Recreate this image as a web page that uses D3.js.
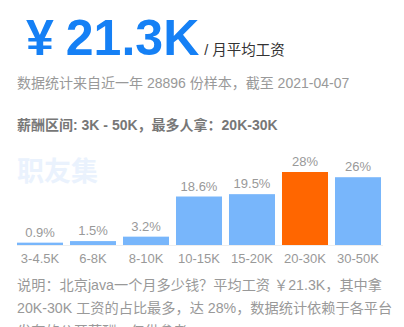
<!DOCTYPE html>
<html>
<head>
<meta charset="utf-8">
<script src="https://cdn.jsdelivr.net/npm/d3@7/dist/d3.min.js"></script>
<style>
  html, body { margin: 0; padding: 0; background: #fff; }
  svg { display: block; font-family: "Liberation Sans", Arial, "Noto Sans CJK SC", sans-serif; }
</style>
</head>
<body>
<div id="chart"></div>
<script>
// data
const categories = ['3-4.5K', '6-8K', '8-10K', '10-15K', '15-20K', '20-30K', '30-50K'];
const shares = [0.9, 1.5, 3.2, 18.6, 19.5, 28, 26];
const shareLabels = ['0.9%', '1.5%', '3.2%', '18.6%', '19.5%', '28%', '26%'];
const topCategory = '20-30K';
const noteLines = [
  '说明：北京java一个月多少钱？平均工资 ￥21.3K，其中拿',
  '20K-30K 工资的占比最多，达 28%，数据统计依赖于各平台',
  '发布的公开薪酬，仅供参考。'
];

const width = 404;
const height = 327;

const svg = d3.select('#chart').append('svg')
  .attr('width', width)
  .attr('height', height);

// headline
const head = svg.append('text')
  .attr('x', 26)
  .attr('y', 55)
  .attr('fill', '#1580f5')
  .attr('font-weight', 'bold');
head.append('tspan').attr('font-size', 50).text('¥');
head.append('tspan').attr('font-size', 50).attr('dx', 12).text('21.3K');
head.append('tspan')
  .attr('font-size', 14.5)
  .attr('font-weight', 'normal')
  .attr('fill', '#333')
  .attr('dx', 5)
  .text('/ 月平均工资');

svg.append('text')
  .attr('x', 17)
  .attr('y', 88)
  .attr('font-size', 14)
  .attr('fill', '#999')
  .text('数据统计来自近一年 28896 份样本，截至 2021-04-07');

svg.append('text')
  .attr('x', 17)
  .attr('y', 130)
  .attr('font-size', 14)
  .attr('font-weight', 'bold')
  .attr('fill', '#777')
  .text('薪酬区间: 3K - 50K，最多人拿：20K-30K');

// watermark
svg.append('text')
  .attr('x', 17)
  .attr('y', 181)
  .attr('font-size', 27)
  .attr('font-weight', 'bold')
  .attr('fill', '#eaf2fd')
  .attr('font-family', '"Noto Sans CJK SC", sans-serif')
  .text('职友集');

// scales
const x = d3.scaleBand()
  .domain(categories)
  .range([13.5, 384.5])
  .paddingInner(0.132)
  .paddingOuter(0.066);

const y = d3.scaleLinear()
  .domain([0, 28])
  .range([245, 172]);

const rows = categories.map((c, i) => ({ cat: c, value: shares[i], label: shareLabels[i] }));

// axis
const xAxis = d3.axisBottom(x).tickSize(0).tickPadding(9);
const axisG = svg.append('g')
  .attr('transform', `translate(0, ${y(0)})`)
  .call(xAxis);
axisG.select('.domain').attr('stroke', '#eee').attr('d', `M17,0.5H383`);
axisG.selectAll('.tick text')
  .attr('font-size', 13)
  .attr('fill', '#999')
  .attr('font-family', '"Liberation Sans", Arial, sans-serif');

// bars
const bar = svg.append('g').selectAll('g')
  .data(rows)
  .enter().append('g');

bar.append('rect')
  .attr('x', (d) => x(d.cat))
  .attr('y', (d) => y(d.value))
  .attr('width', x.bandwidth())
  .attr('height', (d) => y(0) - y(d.value))
  .attr('fill', (d) => d.cat === topCategory ? '#ff6600' : '#78b6fb');

bar.append('text')
  .attr('x', (d) => x(d.cat) + x.bandwidth() / 2)
  .attr('y', (d) => y(d.value) - 6)
  .attr('text-anchor', 'middle')
  .attr('font-size', 13)
  .attr('fill', '#999')
  .text((d) => d.label);

// note (last line runs past the bottom edge, as in the source)
svg.append('g').selectAll('text')
  .data(noteLines)
  .enter().append('text')
  .attr('x', 17)
  .attr('y', (d, i) => 290 + i * 23)
  .attr('font-size', 14.2)
  .attr('fill', '#999')
  .text((d) => d);
</script>
</body>
</html>
